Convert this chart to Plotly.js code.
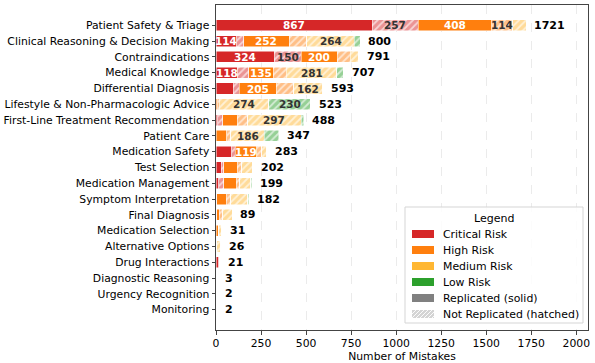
<!DOCTYPE html>
<html><head><meta charset="utf-8">
<script src="https://cdn.plot.ly/plotly-3.0.1.min.js"></script>
<style>html,body{margin:0;padding:0;background:#fff}#chart{width:595px;height:363px}</style>
</head><body><div id="chart"></div>
<script>
const categories = ["Patient Safety & Triage","Clinical Reasoning & Decision Making","Contraindications","Medical Knowledge","Differential Diagnosis","Lifestyle & Non-Pharmacologic Advice","First-Line Treatment Recommendation","Patient Care","Medication Safety","Test Selection","Medication Management","Symptom Interpretation","Final Diagnosis","Medication Selection","Alternative Options","Drug Interactions","Diagnostic Reasoning","Urgency Recognition","Monitoring"];
const criticalReplicated = [867,114,324,118,95,0,10,0,88,30,15,5,4,0,0,15,1,0,0];
const criticalNotReplicated = [257,40,150,65,35,0,28,0,18,12,28,0,0,0,0,6,0,0,0];
const highReplicated = [408,252,200,135,205,9,80,60,119,75,68,52,14,12,0,0,1,1,1];
const highNotReplicated = [114,98,72,72,96,10,58,23,28,25,22,25,20,4,4,0,1,0,0];
const mediumReplicated = [0,0,0,0,0,0,0,0,0,0,0,0,0,0,0,0,0,0,0];
const mediumNotReplicated = [75,264,45,281,162,274,297,186,30,60,60,94,51,15,22,0,0,1,1];
const lowReplicated = [0,0,0,0,0,0,0,0,0,0,0,0,0,0,0,0,0,0,0];
const lowNotReplicated = [0,32,0,36,0,230,15,78,0,0,6,6,0,0,0,0,0,0,0];
const xTickValues = [0,250,500,750,1000,1250,1500,1750,2000];
const legendLabels = ["Critical Risk","High Risk","Medium Risk","Low Risk","Replicated (solid)","Not Replicated (hatched)"];

const W=595,H=363,M={l:216,r:7,t:5,b:33};
const PW=W-M.l-M.r, PH=H-M.t-M.b;
const px=x=>(x-M.l)/PW, py=y=>(H-M.b-y)/PH;
const FONT='DejaVu Sans, sans-serif';

function pale(hex,a){
  const r=parseInt(hex.slice(1,3),16),g=parseInt(hex.slice(3,5),16),b=parseInt(hex.slice(5,7),16);
  const m=c=>Math.round(c*a+255*(1-a));
  return `rgb(${m(r)},${m(g)},${m(b)})`;
}
const series=[
  {base:'#d62728',rep:criticalReplicated,not:criticalNotReplicated},
  {base:'#ff7f0e',rep:highReplicated,not:highNotReplicated},
  {base:'#ffb733',rep:mediumReplicated,not:mediumNotReplicated},
  {base:'#2ca02c',rep:lowReplicated,not:lowNotReplicated}
];
const traces=[]; const segs=[];
series.forEach(s=>{
  const pc=pale(s.base,0.5);
  traces.push({type:'bar',orientation:'h',y:categories,x:s.rep,width:0.7,
    marker:{color:s.base,line:{color:'white',width:0.5}},hoverinfo:'skip',showlegend:false});
  segs.push({vals:s.rep,solid:true});
  traces.push({type:'bar',orientation:'h',y:categories,x:s.not,width:0.7,
    marker:{color:pc,line:{color:'white',width:0.5},
      pattern:{shape:'/',bgcolor:pc,fgcolor:'rgba(255,255,255,0.6)',size:5,solidity:0.35,fillmode:'replace'}},
    hoverinfo:'skip',showlegend:false});
  segs.push({vals:s.not,solid:false});
});

const ann=[];
const totals=categories.map((c,i)=>segs.reduce((a,s)=>a+s.vals[i],0));
categories.forEach((c,i)=>{
  let left=0;
  segs.forEach(s=>{
    const v=s.vals[i];
    if(v>=100){
      ann.push({x:left+v/2,y:c,xref:'x',yref:'y',text:'<b>'+v+'</b>',showarrow:false,
        font:{family:FONT,size:10.5,color:s.solid?'#ffffff':'#333333'},xanchor:'center',yanchor:'middle'});
    }
    left+=v;
  });
  ann.push({x:totals[i]+35,y:c,xref:'x',yref:'y',text:'<b>'+totals[i]+'</b>',showarrow:false,
    font:{family:FONT,size:11,color:'#000'},xanchor:'left',yanchor:'middle'});
});

// legend (manual)
const shapes=[];
const LX0=405,LX1=583,LY0=207,LY1=323;
shapes.push({type:'rect',xref:'paper',yref:'paper',x0:px(LX0),x1:px(LX1),y0:py(LY1),y1:py(LY0),
  fillcolor:'rgba(255,255,255,0.85)',line:{color:'#d5d5d5',width:1},layer:'above'});
ann.push({xref:'paper',yref:'paper',x:px((LX0+LX1)/2),y:py(218),text:'Legend',showarrow:false,
  font:{family:FONT,size:11,color:'#000'},xanchor:'center',yanchor:'middle'});
const patchColors=['#d62728','#ff7f0e','#ffb733','#2ca02c','#808080',null];
legendLabels.forEach((lab,k)=>{
  const yc=234+k*16; const x0=412,x1=434,yt=yc-4,yb=yc+4;
  if(patchColors[k]){
    shapes.push({type:'rect',xref:'paper',yref:'paper',x0:px(x0),x1:px(x1),y0:py(yb),y1:py(yt),
      fillcolor:patchColors[k],line:{width:0},layer:'above'});
  } else {
    shapes.push({type:'rect',xref:'paper',yref:'paper',x0:px(x0),x1:px(x1),y0:py(yb),y1:py(yt),
      fillcolor:'#d4d4d4',line:{width:0},layer:'above'});
    const h=yb-yt;
    for(let k2=-h;k2<x1-x0;k2+=4){
      let sx=x0+k2, sy=yb, ex=x0+k2+h, ey=yt;
      if(sx<x0){sy=yb-(x0-sx); sx=x0;}
      if(ex>x1){ey=yt+(ex-x1); ex=x1;}
      if(ex<=sx) continue;
      shapes.push({type:'line',xref:'paper',yref:'paper',x0:px(sx),y0:py(sy),x1:px(ex),y1:py(ey),
        line:{color:'rgba(255,255,255,0.9)',width:1},layer:'above'});
    }
  }
  ann.push({xref:'paper',yref:'paper',x:px(441),y:py(yc),text:lab,showarrow:false,
    font:{family:FONT,size:10.9,color:'#000'},xanchor:'left',yanchor:'middle'});
});

const layout={
  width:W,height:H,margin:M,barmode:'stack',bargap:0.3,
  paper_bgcolor:'#fff',plot_bgcolor:'#fff',
  font:{family:FONT,size:10.8,color:'#000'},
  xaxis:{range:[0,2065],tickvals:xTickValues,ticktext:xTickValues.map(String),
    showgrid:true,gridcolor:'#e6e6e6',griddash:'dash',gridwidth:0.8,zeroline:false,
    showline:true,linecolor:'#444',linewidth:1,mirror:true,ticks:'outside',ticklen:3.5,tickcolor:'#444',
    tickfont:{family:FONT,size:10.8,color:'#000'},
    title:{text:'Number of Mistakes',font:{family:FONT,size:10.8,color:'#000'},standoff:2}},
  yaxis:{type:'category',categoryorder:'array',categoryarray:categories,range:[18+1.285,-1.285],
    showgrid:false,zeroline:false,showline:true,linecolor:'#444',linewidth:1,mirror:true,
    ticks:'outside',ticklen:3.5,tickcolor:'#444',tickfont:{family:FONT,size:10.8,color:'#000'}},
  annotations:ann,shapes:shapes
};
Plotly.newPlot('chart',traces,layout,{displayModeBar:false,staticPlot:true});
</script></body></html>
